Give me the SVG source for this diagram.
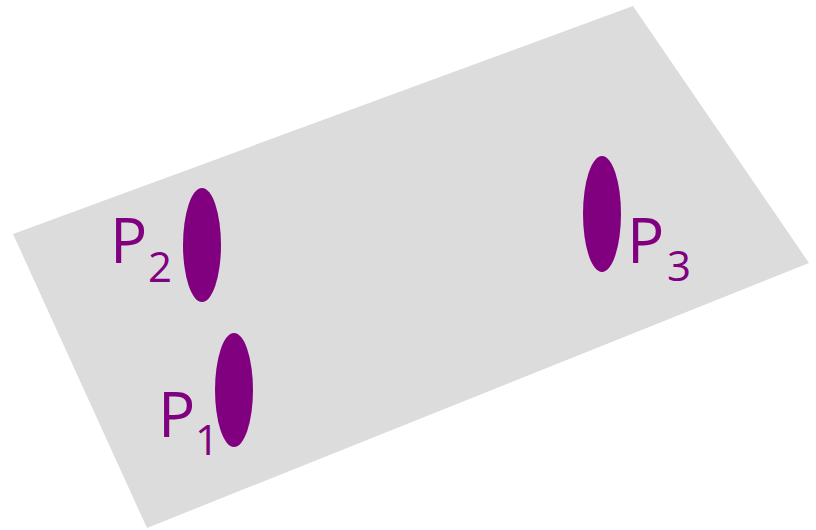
<svg xmlns="http://www.w3.org/2000/svg" width="816" height="530" viewBox="0 0 816 530">
<style>
.pt{fill:#800080}
.lb{font-family:"Open Sans","Liberation Sans",sans-serif;fill:#800080}
.big{font-size:62px}
.sub{font-size:42px}
</style>
<rect width="816" height="530" fill="#ffffff"/>
<polygon id="plane" points="13,234 633,6 809,263 147,528" fill="#dcdcdc"/>
<g id="P2">
<ellipse class="pt" cx="202" cy="245" rx="19" ry="57"/>
<text class="lb big" x="110" y="263">P</text>
<text class="lb sub" x="148" y="282">2</text>
</g>
<g id="P1">
<ellipse class="pt" cx="234" cy="390" rx="19" ry="57"/>
<text class="lb big" x="158" y="437">P</text>
<text class="lb sub" x="195" y="455">1</text>
</g>
<g id="P3">
<ellipse class="pt" cx="602" cy="214" rx="19" ry="58"/>
<text class="lb big" x="627" y="263">P</text>
<text class="lb sub" x="667" y="281">3</text>
</g>
</svg>
